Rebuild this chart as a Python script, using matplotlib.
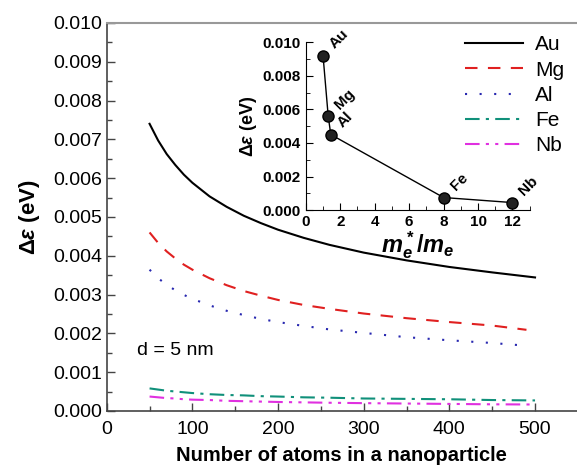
import matplotlib
matplotlib.use("Agg")
import matplotlib.pyplot as plt
from matplotlib.ticker import MultipleLocator

plt.rcParams['font.family'] = ['Liberation Sans', 'DejaVu Sans']
plt.rcParams['mathtext.fontset'] = 'custom'
plt.rcParams['mathtext.rm'] = 'Liberation Sans:bold'
plt.rcParams['mathtext.it'] = 'Liberation Sans:italic:bold'
plt.rcParams['mathtext.bf'] = 'Liberation Sans:bold'

# main panel: energy spacing vs number of atoms
n_atoms = [50, 60, 70, 80, 90, 100, 120, 140, 160, 180, 200, 230, 260, 300, 350, 400, 450, 500]
n_short = n_atoms[:-1] + [490]  # Mg and Al stop a little before 500
au = [0.0074, 0.00697, 0.00662, 0.00634, 0.00609, 0.00588, 0.00553, 0.00526, 0.00503,
      0.00484, 0.00467, 0.00446, 0.00428, 0.00408, 0.00388, 0.00371, 0.00357, 0.00344]
mg = [0.0046, 0.00433, 0.00411, 0.00393, 0.00377, 0.00364, 0.00342, 0.00324, 0.00309,
      0.00297, 0.00286, 0.00273, 0.00263, 0.00251, 0.00239, 0.00229, 0.0022, 0.00209]
al = [0.00364, 0.00342, 0.00325, 0.00311, 0.00299, 0.00289, 0.00272, 0.00258, 0.00247,
      0.00237, 0.00229, 0.00219, 0.0021, 0.00201, 0.0019, 0.00182, 0.00175, 0.00168]
fe = [0.00058, 0.00055, 0.00052, 0.0005, 0.00048, 0.00046, 0.00043, 0.00041, 0.0004,
      0.00038, 0.00037, 0.00035, 0.00034, 0.00032, 0.00031, 0.0003, 0.00028, 0.00027]
nb = [0.00037, 0.00035, 0.00033, 0.00032, 0.0003, 0.00029, 0.00028, 0.00026, 0.00025,
      0.00024, 0.00023, 0.00022, 0.00021, 0.0002, 0.00019, 0.00018, 0.00017, 0.000165]

# inset: spacing vs effective mass ratio
metals = ['Au', 'Mg', 'Al', 'Fe', 'Nb']
mass_ratio = [1.0, 1.3, 1.45, 8.0, 12.0]
de_inset = [0.0092, 0.0056, 0.0045, 0.00075, 0.00045]

fig = plt.figure(figsize=(5.77, 4.68), dpi=100)
ax = fig.add_axes([0.185, 0.122, 0.815, 0.829])

ax.plot(n_atoms, au, color='black', lw=1.5, label='Au')
ax.plot(n_short, mg, color='#e02020', lw=1.5, dashes=(6, 5), label='Mg')
ax.plot(n_short, al, color='#2828b0', lw=1.5, dashes=(1, 6), label='Al')
ax.plot(n_atoms, fe, color='#10907a', lw=1.5, dashes=(7, 3, 1.5, 3), label='Fe')
ax.plot(n_atoms, nb, color='#e030e0', lw=1.5, dashes=(7, 3, 1.5, 3, 1.5, 3), label='Nb')

ax.set_xlim(0, 549)
ax.set_ylim(0, 0.010)
ax.xaxis.set_major_locator(MultipleLocator(100))
ax.xaxis.set_minor_locator(MultipleLocator(50))
ax.yaxis.set_major_locator(MultipleLocator(0.001))
ax.yaxis.set_minor_locator(MultipleLocator(0.0005))
ax.yaxis.set_major_formatter(plt.FormatStrFormatter('%.3f'))
ax.tick_params(which='both', direction='in', labelsize=14, colors='#444444',
               labelcolor='black')
ax.tick_params(which='major', length=6, width=1)
ax.tick_params(which='minor', length=3.5, width=1)
ax.tick_params(axis='x', pad=7)
ax.spines['right'].set_visible(False)
ax.spines['top'].set_color('#999999')
ax.spines['top'].set_linewidth(1.5)
for s in ['left', 'bottom']:
    ax.spines[s].set_color('#444444')
    ax.spines[s].set_linewidth(1.2)

ax.set_xlabel('Number of atoms in a nanoparticle', fontsize=14.5,
              fontweight='bold', labelpad=6)
ax.set_ylabel(r'$\Delta \varepsilon$ (eV)', fontsize=16, fontweight='bold',
              labelpad=8)
ax.text(35, 0.00155, 'd = 5 nm', fontsize=14, va='center')

ax.legend(loc='upper right', frameon=False, fontsize=15, handlelength=2.8,
          handletextpad=0.6, labelspacing=0.3, borderaxespad=0.2,
          bbox_to_anchor=(1.0, 1.0))

ins = fig.add_axes([0.530, 0.551, 0.388, 0.359])
ins.patch.set_alpha(0)
ins.plot(mass_ratio, de_inset, color='black', lw=1, marker='o', ms=8,
         markerfacecolor='#222222', markeredgecolor='black')
for m, x, y in zip(metals, mass_ratio, de_inset):
    ins.annotate(m, (x, y), xytext=(3, 3), textcoords='offset points',
                 rotation=45, fontsize=11, fontweight='bold',
                 ha='left', va='bottom')
ins.set_xlim(0, 13)
ins.set_ylim(0, 0.010)
ins.xaxis.set_major_locator(MultipleLocator(2))
ins.xaxis.set_minor_locator(MultipleLocator(1))
ins.yaxis.set_major_locator(MultipleLocator(0.002))
ins.yaxis.set_minor_locator(MultipleLocator(0.001))
ins.yaxis.set_major_formatter(plt.FormatStrFormatter('%.3f'))
ins.tick_params(which='both', direction='in', labelsize=11)
ins.tick_params(which='major', length=5)
ins.tick_params(which='minor', length=3)
for lab in ins.get_xticklabels() + ins.get_yticklabels():
    lab.set_fontweight('bold')
ins.spines['right'].set_visible(False)
ins.spines['top'].set_visible(False)
ins.set_xlabel(r'$m_e^*/m_e$', fontsize=17, labelpad=0)
ins.set_ylabel(r'$\Delta\varepsilon$ (eV)', fontsize=13, fontweight='bold',
               labelpad=3)

fig.savefig('out.png', dpi=100)
